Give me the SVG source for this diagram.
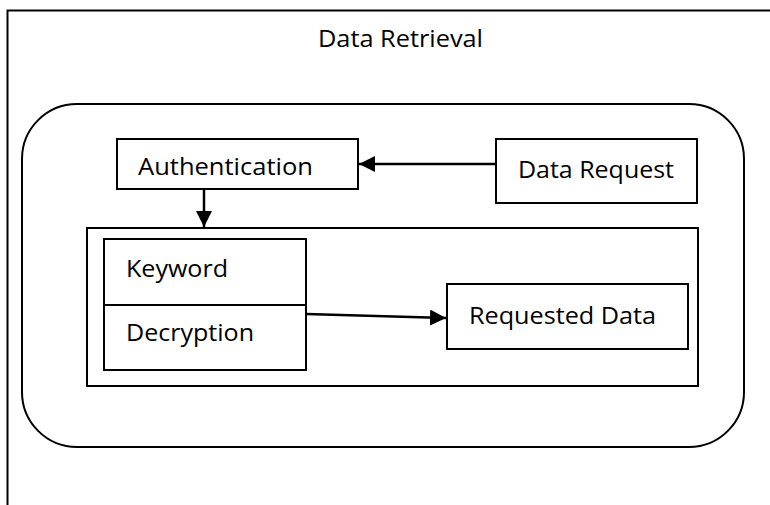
<svg xmlns="http://www.w3.org/2000/svg" width="770" height="505" viewBox="0 0 770 505">
  <style>
    .box { fill: #ffffff; stroke: #000000; stroke-width: 2; }
    .frame { fill: none; stroke: #000000; stroke-width: 2; }
    .lbl { font-family: "Open Sans", "Liberation Sans", sans-serif; font-size: 24px; fill: #000000; }
    .conn { stroke: #000000; stroke-width: 2.5; fill: none; }
  </style>
  <defs>
    <marker id="arrow" markerUnits="userSpaceOnUse" markerWidth="17" markerHeight="16" refX="16" refY="8" orient="auto">
      <path d="M0,0 L16,8 L0,16 Z" fill="#000000"/>
    </marker>
  </defs>
  <rect width="770" height="505" fill="#ffffff"/>

  <g id="outer-frame">
    <path class="frame" d="M7.5,505 L7.5,10.5 L770,10.5"/>
    <text class="lbl" x="318" y="47" textLength="165" lengthAdjust="spacingAndGlyphs">Data Retrieval</text>
  </g>

  <g id="rounded-container">
    <rect class="frame" x="22" y="104" width="722" height="343" rx="55" ry="55"/>
  </g>

  <g id="inner-container">
    <rect class="box" x="87" y="228" width="611" height="158"/>
  </g>

  <g id="authentication">
    <rect class="box" x="117" y="139" width="241" height="50"/>
    <text class="lbl" x="138" y="175" textLength="175" lengthAdjust="spacingAndGlyphs">Authentication</text>
  </g>

  <g id="data-request">
    <rect class="box" x="496" y="139" width="201" height="64"/>
    <text class="lbl" x="518" y="178" textLength="156" lengthAdjust="spacingAndGlyphs">Data Request</text>
  </g>

  <g id="keyword-decryption">
    <rect class="box" x="104" y="239" width="202" height="131"/>
    <line class="frame" x1="104" y1="305" x2="306" y2="305"/>
    <text class="lbl" x="126" y="277" textLength="102" lengthAdjust="spacingAndGlyphs">Keyword</text>
    <text class="lbl" x="126" y="341" textLength="128" lengthAdjust="spacingAndGlyphs">Decryption</text>
  </g>

  <g id="requested-data">
    <rect class="box" x="447" y="284" width="241" height="65"/>
    <text class="lbl" x="469" y="324" textLength="187" lengthAdjust="spacingAndGlyphs">Requested Data</text>
  </g>

  <g id="connectors">
    <line class="conn" x1="496" y1="164" x2="359" y2="164" marker-end="url(#arrow)"/>
    <line class="conn" x1="204" y1="189" x2="204" y2="227" marker-end="url(#arrow)"/>
    <line class="conn" x1="306" y1="314" x2="446" y2="318" marker-end="url(#arrow)"/>
  </g>
</svg>
